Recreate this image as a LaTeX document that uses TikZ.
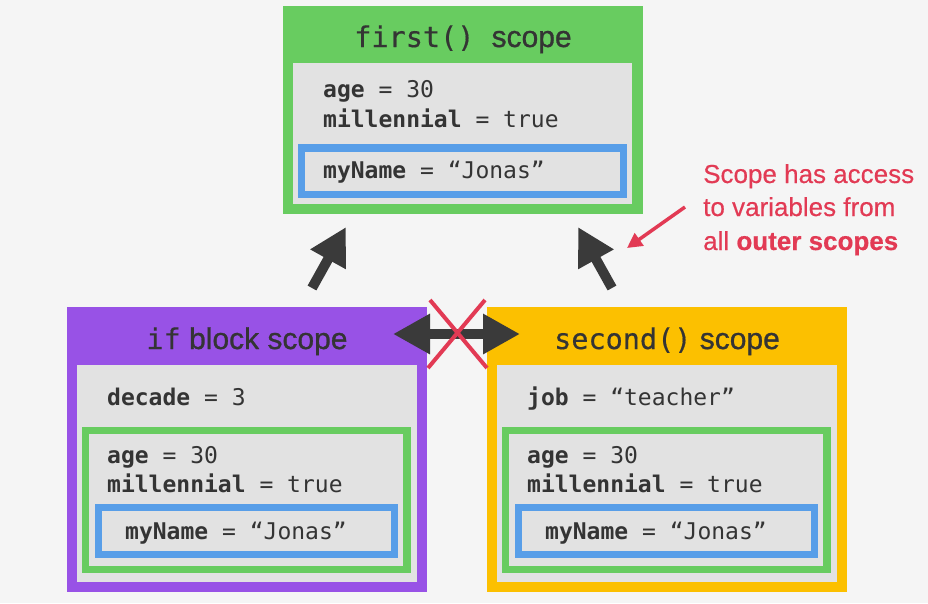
\documentclass[tikz,border=0pt]{standalone}
\usepackage{fontspec}
\setmainfont{Liberation Sans}
\setmonofont{DejaVu Sans Mono}
\newfontfamily\titlesans[FakeBold=0.9]{Liberation Sans}
\newfontfamily\titlemono[FakeBold=0.5]{DejaVu Sans Mono}
\newfontfamily\notesans[FakeBold=0.4]{Liberation Sans}
\usetikzlibrary{arrows.meta}
\definecolor{BgGray}{RGB}{245,245,245}
\definecolor{BoxGray}{RGB}{226,226,226}
\definecolor{ScopeGreen}{RGB}{104,204,96}
\definecolor{ScopeBlue}{RGB}{88,158,232}
\definecolor{ScopePurple}{RGB}{152,82,230}
\definecolor{ScopeYellow}{RGB}{252,192,0}
\definecolor{NoteRed}{RGB}{226,58,84}
\definecolor{ArrowGray}{RGB}{58,58,58}
\definecolor{TextGray}{RGB}{52,52,52}
\newcommand{\codefont}{\fontsize{23}{28}\selectfont\ttfamily}
\newcommand{\titlefont}{\fontsize{30}{34}\selectfont\titlesans}
\newcommand{\titlecode}[1]{{\fontsize{28.5}{34}\selectfont\titlemono #1}}
\newcommand{\notefont}{\fontsize{26}{32}\selectfont\notesans}
\begin{document}
\begin{tikzpicture}[x=1pt,y=-1pt,
		code/.style={anchor=base west,inner sep=0pt,font=\codefont,text=TextGray},
		title/.style={anchor=base,inner sep=0pt,font=\titlefont,text=TextGray},
		note/.style={anchor=base west,inner sep=0pt,font=\notefont,text=NoteRed},
		bigarrow/.style={ArrowGray,line width=10pt,-{Triangle[length=37pt,width=38pt]}},
		swaparrow/.style={ArrowGray,line width=10pt,{Triangle[length=37pt,width=38pt]}-{Triangle[length=37pt,width=38pt]}},
		cross/.style={NoteRed,line width=4pt}]
				% background
				\fill[BgGray] (0,0) rectangle (928,603);
				\useasboundingbox (0,0) rectangle (928,603);

				%% first() scope:
				\fill[ScopeGreen] (283,6) rectangle (643,214);
				\fill[BoxGray] (293,63) rectangle (632,204);
				\node[title] (firstTitle) at (463,47) {\titlecode{first() }scope};
				\node[code] (firstAge) at (323,97) {\textbf{age} = 30};
				\node[code] (firstMil) at (323,127) {\textbf{millennial} = true};
				% global scope
				\fill[ScopeBlue] (298,144) rectangle (627,198);
				\fill[BoxGray] (305,152) rectangle (620,191);
				\node[code] (firstName) at (323,178) {\textbf{myName} = “Jonas”};

				%% if block scope:
				\fill[ScopePurple] (67,307) rectangle (427,592);
				\fill[BoxGray] (77,365) rectangle (417,582);
				\node[title] (ifTitle) at (247,349) {\titlecode{if} block scope};
				\node[code] (ifDecade) at (107,405) {\textbf{decade} = 3};

				%% second() scope:
				\fill[ScopeYellow] (487,307) rectangle (847,592);
				\fill[BoxGray] (497,365) rectangle (837,582);
				\node[title] (secondTitle) at (667,349) {\titlecode{second()} scope};
				\node[code] (secondJob) at (527,405) {\textbf{job} = “teacher”};

				% first() and global scope, seen from both inner scopes
				\foreach \dx/\s in {0/if,420/second} {
					\fill[ScopeGreen] (82+\dx,427) rectangle (411+\dx,573);
					\fill[BoxGray] (89+\dx,434) rectangle (403+\dx,566);
					\node[code] (\s Age) at (107+\dx,463) {\textbf{age} = 30};
					\node[code] (\s Mil) at (107+\dx,492) {\textbf{millennial} = true};
					\fill[ScopeBlue] (95+\dx,504) rectangle (398+\dx,558);
					\fill[BoxGray] (102+\dx,511) rectangle (391+\dx,551);
					\node[code] (\s Name) at (125+\dx,539) {\textbf{myName} = “Jonas”};
				}

				%% arrows:
				\coordinate (ifUp) at (312,288);
				\coordinate (firstInL) at (346,227);
				\coordinate (secondUp) at (612,288);
				\coordinate (firstInR) at (578,227);
				\draw[bigarrow] (ifUp) -- (firstInL);
				\draw[bigarrow] (secondUp) -- (firstInR);

				% no access between sibling scopes
				\coordinate (ifSide) at (393,334);
				\coordinate (secondSide) at (520,334);
				\draw[swaparrow] (ifSide) -- (secondSide);
				\coordinate (crossA) at (430,300);
				\coordinate (crossB) at (487,368);
				\coordinate (crossC) at (485,300);
				\coordinate (crossD) at (428,368);
				\draw[cross] (crossA) -- (crossB);
				\draw[cross] (crossC) -- (crossD);

				% note
				\node[note] (noteA) at (703,183) {Scope has access};
				\node[note] (noteB) at (703,216) {to variables from};
				\node[note] (noteC) at (703,250) {all \textbf{outer scopes}};
				\coordinate (noteFrom) at (685,207);
				\coordinate (noteTo) at (627,248);
				\draw[NoteRed,line width=3.5pt,-{Triangle[length=15pt,width=15pt]}] (noteFrom) -- (noteTo);
			\end{tikzpicture}
\end{document}
